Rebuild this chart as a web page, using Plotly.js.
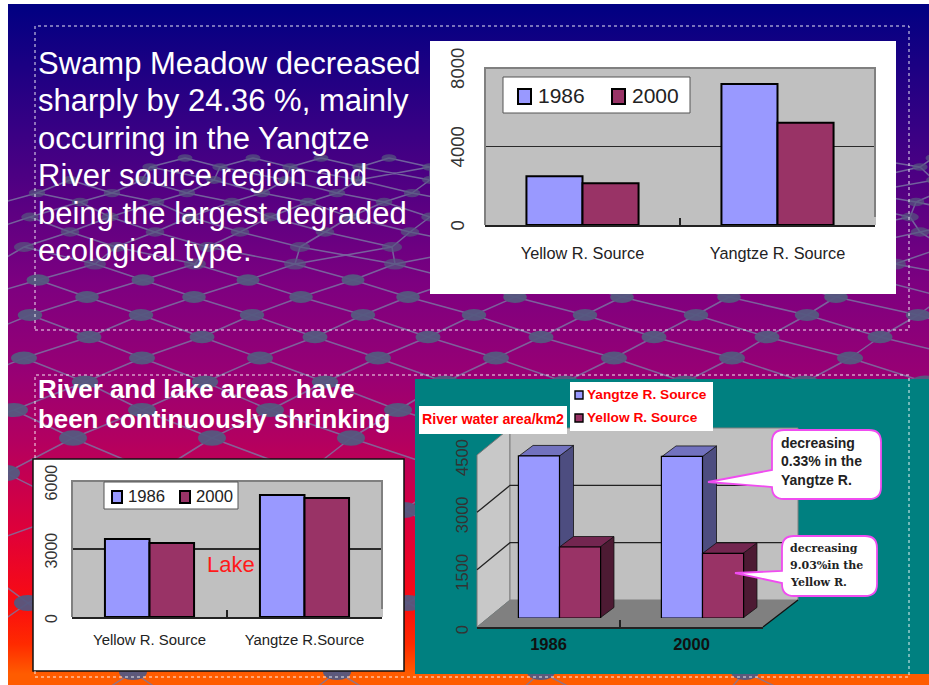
<!DOCTYPE html>
<html><head><meta charset="utf-8">
<script src="https://cdn.plot.ly/plotly-3.0.1.min.js"></script>
<style>
html,body{margin:0;padding:0;background:#fff;overflow:hidden}
#bg{position:absolute;left:8px;top:4px;width:921px;height:681px;
background:linear-gradient(180deg,#000082 0,#3a0084 130px,#7d0080 280px,#980074 370px,#b4005f 440px,#e00038 530px,#fa0c10 600px,#ff2a00 640px,#ff5c00 670px,#ff5c00 681px);overflow:hidden}
#bg svg{position:absolute;left:-8px;top:-4px}
#chart{position:absolute;left:0;top:0;width:929px;height:685px}
</style></head><body>
<div id="bg"></div><div id="chart"></div>
<script>
// ---------- data ----------
const regions = ['Yellow R. Source', 'Yangtze R. Source'];
const swamp1986 = [2480, 7190];
const swamp2000 = [2130, 5210];
const lakeRegions = ['Yellow R. Source', 'Yangtze R.Source'];
const lake1986 = [3440, 5380];
const lake2000 = [3260, 5250];
const riverYears = ['1986', '2000'];
const riverYangtze = [4240, 4226];
const riverYellow = [1857, 1690];
const swampTicks = [0, 4000, 8000];
const lakeTicks = [0, 3000, 6000];
const riverTicks = [0, 1500, 3000, 4500];
const headline = ['Swamp Meadow decreased', 'sharply by 24.36 %, mainly', 'occurring in the Yangtze', 'River source region and', 'being the largest degraded', 'ecological type.'];
const subhead = ['River and lake areas have', 'been continuously shrinking'];

const W = 929, H = 685;
const BLUE = '#9999ff', RED = '#993366';
const SANS = 'Liberation Sans, Arial, sans-serif';
const px = x => x / W, py = y => 1 - y / H;
const dx = (a, b) => [px(a), px(b)], dy = (top, bot) => [py(bot), py(top)];

// ---------- decorative slide background: lattice rows [y, spacing, first node x] ----------
(function () {
  const NS = 'http://www.w3.org/2000/svg';
  const svg = document.createElementNS(NS, 'svg');
  svg.setAttribute('width', W); svg.setAttribute('height', H);
  const rows = [[158, 68, 185], [167, 70, 150], [180, 72, 70], [193, 75, 37], [202, 76, 80], [217, 80, 30], [232, 85, 70], [247, 92, 24],
    [264, 100, 95], [280, 105, 38], [297, 107, 87], [315, 111, 30], [337, 113, 89], [358, 118, 24], [382, 120, 85], [410, 128, 14],
    [438, 139, 73], [473, 150, 6], [510, 162, 80], [553, 176, -40], [603, 190, 28], [672, 204, 133], [745, 220, 20]];
  const xs = r => { const a = []; for (let x = r[2]; x < W + r[1]; x += r[1]) a.push(x); return a; };
  let d = '', nodes = '';
  rows.forEach((r, n) => {
    const o = rows[n + 1], ox = o ? xs(o).concat([o[2] - o[1]]).sort((a, b) => a - b) : [];
    xs(r).forEach(x => {
      if (o) {
        const right = ox.find(v => v >= x);
        const left = ox[ox.indexOf(right) - 1];
        if (left !== undefined) d += `M${x} ${r[0]}L${left} ${o[0]}`;
        if (right !== undefined) d += `M${x} ${r[0]}L${right} ${o[0]}`;
      }
      const rx = Math.min(r[1] * 0.11, 14), ry = Math.min(r[1] * 0.055, 8);
      nodes += `<ellipse cx="${x}" cy="${r[0]}" rx="${rx}" ry="${ry}" fill="#55587f" opacity="${r[0] < 280 ? .7 : .95}"/>`;
    });
  });
  svg.innerHTML = `<path d="${d}" stroke="#7a78a4" stroke-opacity=".8" stroke-width="1.5" fill="none"/>` + nodes;
  document.getElementById('bg').appendChild(svg);
})();

// ---------- panels ----------
const rect = (x0, y0, x1, y1, fill, line, extra) => Object.assign({
  type: 'rect', xref: 'paper', yref: 'paper', x0: px(x0), x1: px(x1), y0: py(y1), y1: py(y0),
  fillcolor: fill, line: line || { width: 0 }, layer: 'below'
}, extra || {});
const pathP = pts => 'M' + pts.map(p => px(p[0]) + ',' + py(p[1])).join('L') + 'Z';
const openP = pts => 'M' + pts.map(p => px(p[0]) + ',' + py(p[1])).join('L');
const poly = (pts, fill, line) => ({ type: 'path', xref: 'paper', yref: 'paper', path: pathP(pts), fillcolor: fill, line: line || { width: 0 }, layer: 'below' });

const P1 = { l: 485, r: 875, t: 68, b: 225 };
const P3 = { l: 72, r: 382, t: 481, b: 617 };
const F = { l: 477, r: 763, t: 455, b: 627, ox: 33, oy: 27 };

const shapes = [
  rect(430, 41, 896, 294, '#fff'),
  rect(P1.l, P1.t, P1.r + 1, P1.b, '#c0c0c0'),
  rect(33, 459, 404, 671, '#fff', { color: '#111', width: 1.5 }),
  rect(P3.l, P3.t, P3.r + 1, P3.b, '#c0c0c0'),
  rect(415, 379, 929, 674, '#008080'),
  poly([[F.l, F.b], [F.l, F.t], [F.l + F.ox, F.t - F.oy], [F.l + F.ox, F.b - F.oy]], '#c8c8c8', { color: '#777', width: 1 }),
  poly([[F.l + F.ox, F.t - F.oy], [F.r + F.ox + 2, F.t - F.oy], [F.r + F.ox + 2, F.b - F.oy], [F.l + F.ox, F.b - F.oy]], '#c0c0c0', { color: '#808080', width: 1 }),
  poly([[F.l, F.b], [F.r, F.b], [F.r + F.ox + 2, F.b - F.oy], [F.l + F.ox, F.b - F.oy]], '#808080'),
];
// depth gridlines of the 3-D river chart, from the tick values
riverTicks.slice(1, 3).forEach(v => {
  const y = F.b - v / 4500 * (F.b - F.t);
  shapes.push({ type: 'path', xref: 'paper', yref: 'paper', layer: 'below', line: { color: '#222', width: 1.3 },
    path: openP([[F.l, y], [F.l + F.ox, y - F.oy], [F.r + F.ox + 2, y - F.oy]]) });
});
shapes.push({ type: 'path', xref: 'paper', yref: 'paper', layer: 'below', line: { color: '#111', width: 1.3 },
  path: openP([[F.r, F.b], [F.r + F.ox + 2, F.b - F.oy]]) });

// panel frames (grey, three sides)
[P1, P3].forEach(p => shapes.push({ type: 'path', xref: 'paper', yref: 'paper', line: { color: '#808080', width: 2 },
  path: openP([[p.l, p.b], [p.l, p.t], [p.r, p.t], [p.r, p.b - 8]]) }));

// ---------- annotations ----------
const txt = (text, x, y, size, color, weight, family) => ({
  text, x: px(x - 2), y: py(y), xref: 'paper', yref: 'paper', showarrow: false, xanchor: 'left', yanchor: 'middle',
  font: Object.assign({ family: family || SANS, size, color }, weight ? { weight } : {})
});
const annotations = [];
headline.forEach((t, i) => annotations.push(txt(t, 38, 63.5 + i * 37.5, 31, '#fff')));
subhead.forEach((t, i) => annotations.push(txt(t, 38, 389 + i * 30, 25.9, '#fff', 700)));
annotations.push(txt('Lake', 207, 564, 22, '#ff1a1a'));

// legends and labels that sit as white boxes on the charts
const box = (x0, y0, x1, y1, border) => rect(x0, y0, x1, y1, '#fff', border ? { color: '#555', width: 1 } : null, { layer: 'above' });
const swatch = (x0, y0, x1, y1, fill, w) => rect(x0, y0, x1, y1, fill, { color: '#000', width: w }, { layer: 'above' });

shapes.push(box(503, 77, 690, 113, true));
shapes.push(swatch(518, 89, 531, 104, BLUE, 2), swatch(612, 89, 625, 104, RED, 2));
annotations.push(txt('1986', 538, 96, 21, '#222'), txt('2000', 632, 96, 21, '#222'));

shapes.push(box(104, 482, 238, 509, true));
shapes.push(swatch(112, 491, 122, 503, BLUE, 2), swatch(180, 491, 190, 503, RED, 2));
annotations.push(txt('1986', 128, 496, 16.7, '#222'), txt('2000', 196, 496, 16.7, '#222'));

shapes.push(box(419, 406, 567, 434), box(570, 382, 713, 431));
shapes.push(swatch(575, 391, 583, 399, BLUE, 1.4), swatch(575, 414, 583, 422, RED, 1.4));
annotations.push(txt('River water area/km2', 422, 419, 14.2, '#ff0000', 700));
annotations.push(txt('Yangtze R. Source', 587, 394, 13.7, '#ff0000', 700), txt('Yellow R. Source', 587, 417, 13.7, '#ff0000', 700));

// callouts
function callout(x0, y0, x1, y1, tipX, tipY, tA, tB) {
  const r = 12, P = (a, b) => px(a) + ',' + py(b);
  return { type: 'path', xref: 'paper', yref: 'paper', fillcolor: '#fff', line: { color: '#f04cf0', width: 1.8 },
    path: `M${P(x0 + r, y0)}L${P(x1 - r, y0)}Q${P(x1, y0)} ${P(x1, y0 + r)}L${P(x1, y1 - r)}Q${P(x1, y1)} ${P(x1 - r, y1)}L${P(x0 + r, y1)}Q${P(x0, y1)} ${P(x0, y1 - r)}L${P(x0, tB)}L${P(tipX, tipY)}L${P(x0, tA)}L${P(x0, y0 + r)}Q${P(x0, y0)} ${P(x0 + r, y0)}Z` };
}
shapes.push(callout(772, 430, 881, 499, 708, 482, 470, 487));
shapes.push(callout(782, 536, 877, 596, 735, 573, 571, 583));
['decreasing', '0.33% in the', 'Yangtze R.'].forEach((t, i) => annotations.push(txt(t, 781, 443 + i * 18.3, 14, '#222', 700)));
['decreasing', '9.03%in the', 'Yellow R.'].forEach((t, i) => annotations.push(txt(t, 790, 548 + i * 17, 11, '#222', 700, 'DejaVu Serif, serif')));

// dotted frames
[[35, 26, 909, 330], [35, 375, 909, 677]].forEach(b => shapes.push({
  type: 'rect', xref: 'paper', yref: 'paper', x0: px(b[0]), x1: px(b[2]), y0: py(b[3]), y1: py(b[1]),
  line: { color: 'rgba(255,255,255,.9)', width: 1, dash: 'dot' }, fillcolor: 'rgba(0,0,0,0)' }));

// ---------- traces ----------
const bar = (name, xs, ys, color, xa, ya, lw) => ({
  type: 'bar', name, x: xs, y: ys, xaxis: xa, yaxis: ya, showlegend: false,
  marker: { color, line: { color: '#000', width: lw } }, hoverinfo: 'x+y+name'
});
const traces = [
  bar('1986', regions, swamp1986, BLUE, 'x', 'y', 2),
  bar('2000', regions, swamp2000, RED, 'x', 'y', 2),
  bar('1986', lakeRegions, lake1986, BLUE, 'x2', 'y2', 2),
  bar('2000', lakeRegions, lake2000, RED, 'x2', 'y2', 2),
  { type: 'bar', x: riverYears, y: [null, null], xaxis: 'x3', yaxis: 'y3', showlegend: false, hoverinfo: 'skip' }
];

// 3-D faces: built from the river values, depth offset in data units
const BW = 0.283, DX = 0.098, DY = 275;
const face = (xs, ys, fill) => ({
  type: 'scatter', mode: 'lines', x: xs, y: ys, fill: 'toself', fillcolor: fill,
  line: { color: '#111', width: 0.8 }, xaxis: 'x4', yaxis: 'y4', showlegend: false, hoverinfo: 'skip'
});
[[riverYangtze, -BW, '#7272bf', '#4d4d80'], [riverYellow, 0, '#732650', '#4d1a33']].forEach(([vals, off, topC, sideC]) => {
  vals.forEach((v, i) => {
    const l = i + off, r = l + BW;
    traces.push(face([r, r + DX, r + DX, r, r], [0, DY, v + DY, v, 0], sideC));
    traces.push(face([l, l + DX, r + DX, r, l], [v, v + DY, v + DY, v, v], topC));
  });
});
traces.push(bar('Yangtze R. Source', riverYears, riverYangtze, BLUE, 'x5', 'y5', 1.2));
traces.push(bar('Yellow R. Source', riverYears, riverYellow, RED, 'x5', 'y5', 1.2));

// ---------- axes ----------
const catAxis = (l, r, anchor, size, standoff, font) => ({
  domain: dx(l, r), anchor, type: 'category', showline: true, linecolor: '#222', linewidth: 2,
  ticks: 'inside', ticklen: 7, tickwidth: 1.3, tickcolor: '#222', tickson: 'boundaries', showgrid: false, zeroline: false,
  tickangle: 0, ticklabelstandoff: standoff, tickfont: font || { family: SANS, size, color: '#222' }, fixedrange: true
});
const valAxis = (t, b, anchor, ticks, max, size, standoff, shift) => ({
  domain: dy(t, b), anchor, range: [0, max], tickmode: 'array', tickvals: ticks, ticktext: ticks.map(String),
  tickangle: -90, tickfont: { family: SANS, size, color: '#333' }, ticklabelstandoff: standoff, ticklabelshift: shift,
  showgrid: true, gridcolor: '#2a2a2a', gridwidth: 1.3, zeroline: false, showline: false, ticks: '', fixedrange: true
});
const hidden = (domain, anchor, range) => ({ domain, anchor, range, visible: false, fixedrange: true, type: 'linear' });
const barsTop = 618 - 172 * 5000 / 4500;

const layout = {
  width: W, height: H, margin: { l: 0, r: 0, t: 0, b: 0 }, autosize: false,
  paper_bgcolor: 'rgba(0,0,0,0)', plot_bgcolor: 'rgba(0,0,0,0)',
  barmode: 'group', bargap: 0.425, bargroupgap: 0, showlegend: false,
  shapes, annotations,
  xaxis: catAxis(P1.l, P1.r, 'y', 16.3, 12),
  yaxis: valAxis(P1.t, P1.b, 'x', swampTicks, 8000, 18.6, 16, 3),
  xaxis2: catAxis(P3.l, P3.r, 'y2', 14.9, 8),
  yaxis2: valAxis(P3.t, P3.b, 'x2', lakeTicks, 6000, 16, 11, 4),
  xaxis3: catAxis(F.l, F.r, 'y3', 16, 1, { family: SANS, size: 16.5, color: '#111', weight: 700 }),
  yaxis3: Object.assign(valAxis(F.t, F.b, 'x3', riverTicks, 4500, 16.6, 5, 5), { showgrid: false }),
  xaxis4: hidden(dx(F.l + 11, F.r + 11), 'y4', [-0.5, 1.5]),
  yaxis4: hidden(dy(barsTop, 618), 'x4', [0, 5000]),
  xaxis5: { domain: dx(F.l + 11, F.r + 11), anchor: 'y5', type: 'category', visible: false, fixedrange: true },
  yaxis5: hidden(dy(barsTop, 618), 'x5', [0, 5000])
};

Plotly.newPlot('chart', traces, layout, { displayModeBar: false, staticPlot: true });
</script>
</body></html>
